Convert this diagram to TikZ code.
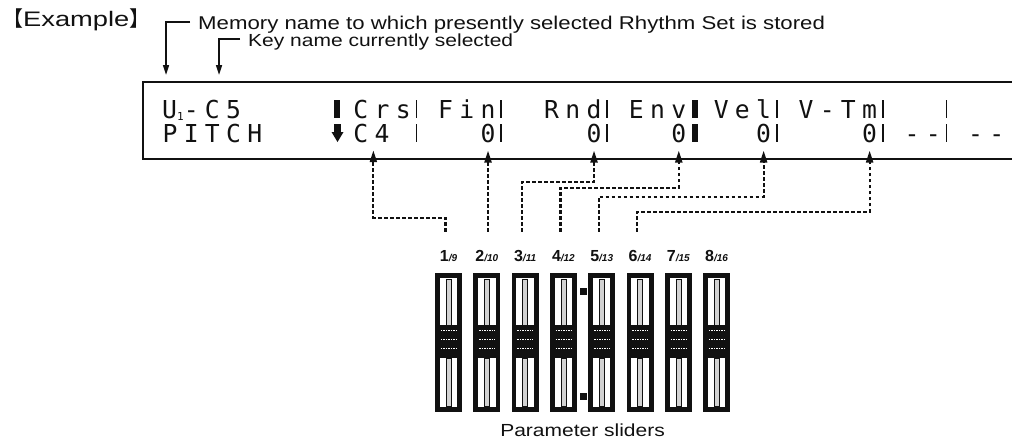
\documentclass[tikz,border=0pt]{standalone}
\usepackage{fontspec}
\setmainfont{Liberation Sans}
\newfontfamily\labelfont[FakeStretch=1.2]{Liberation Sans}
\newfontfamily\titlefont[FakeStretch=1.3]{Liberation Sans}
\newfontfamily\lcdfont{DejaVu Sans Mono}
\newfontfamily\cjkfont{Noto Sans CJK JP}
\usetikzlibrary{arrows.meta,positioning,calc}
\definecolor{PanelInk}{HTML}{111111}
\tikzset{
  figtitle/.style={font=\titlefont\fontsize{21}{24}\selectfont, anchor=west, inner sep=0pt, text=PanelInk},
  pointlbl/.style={font=\labelfont\fontsize{17.5}{20}\selectfont, anchor=west, inner sep=0pt, text=PanelInk},
  pointer/.style={-{Triangle[length=10pt,width=6pt]}, line width=1.6pt, PanelInk},
  lcdframe/.style={line width=2pt, PanelInk},
  lcdch/.style={font=\lcdfont\fontsize{24.7}{26}\selectfont, anchor=base, inner sep=1pt, text=PanelInk},
  lcdsep/.style={fill=PanelInk, minimum width=1.8pt, minimum height=18pt, inner sep=0pt},
  lcdblk/.style={fill=PanelInk, minimum width=6pt, minimum height=18pt, inner sep=0pt},
  wire/.style={-{Triangle[length=12pt,width=7pt]}, line width=2.2pt, dash pattern=on 3.5pt off 2.5pt,
               PanelInk, shorten >=7pt},
  slider/.style={fill=PanelInk, minimum width=27pt, minimum height=139pt, inner sep=0pt},
  sllabel/.style={font=\fontsize{16}{18}\selectfont, inner sep=0pt, text=PanelInk},
}
% column of the 40-character display
\newcommand{\lcdx}[1]{170+21.2*(#1)}
\newcommand{\lcdrow}[3]{%
  \foreach \lcdc [count=\k from #2] in {#3}
    \node[lcdch] at ({\lcdx{\k}},#1) {\lcdc};}

\begin{document}
\begin{tikzpicture}[x=1pt,y=-1pt]
  \useasboundingbox (0,0) rectangle (1012,442);

  % Heading and pointers
  \node[figtitle] (exmpl) at (2,20) {{\cjkfont 【}Example{\cjkfont 】}};
  \node[pointlbl, font=\labelfont\fontsize{18.5}{20}\selectfont] (memtxt) at (198,25)
        {Memory name to which presently selected Rhythm Set is stored};
  \node[pointlbl] (keytxt) at (248,42) {Key name currently selected};
  \coordinate (memtip) at (166,75);
  \coordinate (keytip) at (219,75);
  \draw[pointer] ($(memtxt.west)+(-8,-3)$) -| (memtip);
  \draw[pointer] ($(keytxt.west)+(-8,-3)$) -| (keytip);

  % Display
  \draw[lcdframe] (1012,82) -- (143,82) -- (143,159) -- (1012,159);
  \node[lcdch, anchor=base west] (memname) at ({\lcdx{0}-9},118)
        {U\raisebox{-2pt}{\fontsize{11}{11}\selectfont 1}};
  \lcdrow{118}{1}{-,C,5}
  \lcdrow{118}{9}{C,r,s}
  \lcdrow{118}{13}{F,i,n}
  \lcdrow{118}{18}{R,n,d}
  \lcdrow{118}{22}{E,n,v}
  \lcdrow{118}{26}{V,e,l}
  \lcdrow{118}{30}{V,-,T,m}
  \lcdrow{142}{0}{P,I,T,C,H}
  \node[lcdch] at ({\lcdx{9}},142) {C};
  \node[lcdch] (crsval) at ({\lcdx{10}},142) {4};
  \node[lcdch] (finval) at ({\lcdx{15}},142) {0};
  \node[lcdch] (rndval) at ({\lcdx{20}},142) {0};
  \node[lcdch] (envval) at ({\lcdx{24}},142) {0};
  \node[lcdch] (velval) at ({\lcdx{28}},142) {0};
  \node[lcdch] (vtmval) at ({\lcdx{33}},142) {0};
  \lcdrow{142}{35}{-,-}
  \lcdrow{142}{38}{-,-}
  \foreach \c in {12,16,21,29,34,37} {
    \node[lcdsep] at ({\lcdx{\c}-8},109) {};
    \node[lcdsep] at ({\lcdx{\c}-8},133) {};
  }
  \node[lcdblk] at ({\lcdx{8}-3},109) {};
  \node[lcdblk] at ({\lcdx{25}-5},109) {};
  \node[lcdblk] at ({\lcdx{25}-5},133) {};
  \fill[PanelInk] (334,124) rectangle (341,133);
  \fill[PanelInk] (331.5,132) -- (343.5,132) -- (337.5,142) -- cycle;

  % Sliders
  \foreach \i [evaluate=\i as \j using int(\i+8)] in {1,...,8} {
    \node[slider] (sl\i) at ({448.5+38.3*(\i-1)},342.5) {};
    \fill[white] ($(sl\i.north west)+(5,5)$) rectangle ($(sl\i.north east)+(-5,52)$);
    \fill[white] ($(sl\i.south west)+(5,-54)$) rectangle ($(sl\i.south east)+(-5,-5)$);
    \draw[PanelInk, thin, fill=gray!35] ($(sl\i.north)+(-2.5,6)$) rectangle ($(sl\i.north)+(2.5,52)$);
    \draw[PanelInk, thin, fill=gray!35] ($(sl\i.south)+(-2.5,-54)$) rectangle ($(sl\i.south)+(2.5,-6)$);
    \foreach \dy in {58,67,76}
      \draw[white, line width=1pt, dash pattern=on 1.5pt off 1pt]
        ($(sl\i.north west)+(6,\dy)$) -- ($(sl\i.north east)+(-6,\dy)$);
    \node[sllabel, above=11pt of sl\i] {\textbf{\i}{\fontsize{10}{11}\selectfont\bfseries\itshape/\j}};
  }
  \fill[PanelInk] (580,288) rectangle (587,295);
  \fill[PanelInk] (580,393) rectangle (587,400);
  \coordinate (slmid) at ($(sl4.south)!0.5!(sl5.south)$);
  \node[pointlbl, anchor=north, below=11pt of slmid] (sltxt) {Parameter sliders};

  % Slider to parameter links
  \foreach \i in {1,3,4,5,6}
    \coordinate (top\i) at ($(sl\i.north)+(-3,-41)$);
  \coordinate (top2) at ($(finval.south |- sl2.north)+(0,-41)$);
  \draw[wire] (top1) -- ++(0,-14) -| (crsval.south west);
  \draw[wire] (top2) -- (finval.south);
  \draw[wire] (top3) -- ++(0,-50) -| (rndval.south);
  \draw[wire] (top4) -- ++(0,-44) -| (envval.south);
  \draw[wire] (top5) -- ++(0,-35) -| (velval.south);
  \draw[wire] (top6) -- ++(0,-20) -| (vtmval.south);
\end{tikzpicture}
\end{document}
